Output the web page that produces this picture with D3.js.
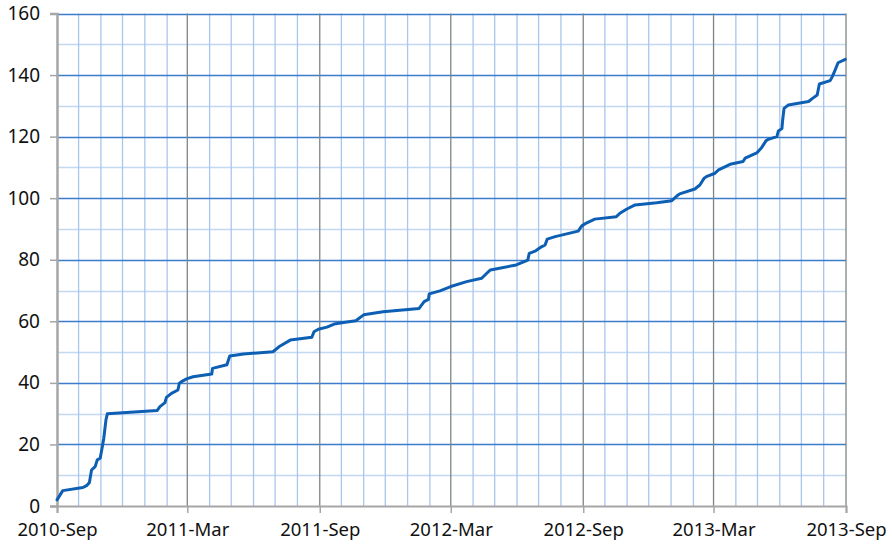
<!DOCTYPE html>
<html>
<head>
<meta charset="utf-8">
<script src="https://cdn.jsdelivr.net/npm/d3@7"></script>
<style>
  html, body { margin: 0; padding: 0; background: #fff; }
  svg { display: block; }
  .tick text { font-family: "Noto Sans", "Open Sans", sans-serif; fill: #111; }
</style>
</head>
<body>
<svg id="chart" width="892" height="551"></svg>
<script>
// ---- data ----
const dates = [
  "2010-09-01","2010-09-09","2010-10-07","2010-10-12","2010-10-16","2010-10-19","2010-10-24","2010-10-27","2010-10-31",
  "2010-11-03","2010-11-05","2010-11-08","2010-11-10","2011-01-18","2011-01-22","2011-01-29","2011-01-31","2011-02-07",
  "2011-02-16","2011-02-18","2011-02-21","2011-02-28","2011-03-09","2011-04-04","2011-04-05","2011-04-25","2011-04-29",
  "2011-05-18","2011-06-28","2011-07-08","2011-07-22","2011-08-21","2011-08-24","2011-08-30","2011-09-11","2011-09-21",
  "2011-10-04","2011-10-21","2011-11-01","2011-11-28","2012-01-17","2012-01-24","2012-01-30","2012-01-31","2012-02-15",
  "2012-03-01","2012-03-23","2012-04-13","2012-04-20","2012-04-25","2012-05-31","2012-06-11","2012-06-16","2012-06-18",
  "2012-06-27","2012-07-05","2012-07-10","2012-07-13","2012-07-24","2012-08-25","2012-08-30","2012-09-06","2012-09-17",
  "2012-10-17","2012-10-22","2012-10-31","2012-11-12","2012-12-12","2013-01-02","2013-01-09","2013-01-13","2013-02-03",
  "2013-02-10","2013-02-16","2013-02-19","2013-03-03","2013-03-08","2013-03-24","2013-04-11","2013-04-14","2013-04-30",
  "2013-05-07","2013-05-13","2013-05-16","2013-05-28","2013-05-30","2013-06-04","2013-06-05","2013-06-07","2013-06-13",
  "2013-07-11","2013-07-17","2013-07-23","2013-07-26","2013-08-10","2013-08-13","2013-08-17","2013-08-21","2013-08-31"
];
const values = [
  2,5,6,6.6,7.6,11.7,12.8,15,15.5,
  19.3,22,28,30,31,32.3,33.6,35.3,36.6,
  37.7,39.9,40.4,41.3,42,42.9,44.7,45.9,48.7,
  49.4,50.1,52,53.9,54.8,56.6,57.4,58.1,59.1,
  59.6,60.2,62.1,63.1,64.2,66.4,67.1,68.9,69.9,
  71.3,72.9,74,75.6,76.7,78.3,79.4,79.9,82.1,
  82.9,84.2,84.8,86.7,87.5,89.3,91,92,93.2,
  94,95.1,96.4,97.8,98.5,99.2,100.7,101.4,103,
  104.3,106.5,107,108.1,109.2,111,111.9,113,114.7,
  116.5,118.7,119.1,120,121.8,122.6,125.4,129.2,130.3,
  131.4,132.5,133.5,137.1,138.2,139.5,141.7,144,145.1
];
const yMajorTicks = [0,20,40,60,80,100,120,140,160];
const yMinorTicks = [10,30,50,70,90,110,130,150];
const xMajorTickLabels = ["2010-Sep","2011-Mar","2011-Sep","2012-Mar","2012-Sep","2013-Mar","2013-Sep"];
const xDomain = ["2010-09-01","2013-09-01"];
const yDomain = [0,160];

// ---- layout ----
const parse = d3.timeParse("%Y-%m-%d");
const margin = {left: 57, right: 46, top: 13.5, bottom: 45};
const W = 892, H = 551;
const svg = d3.select("#chart");

const x = d3.scaleTime()
  .domain(xDomain.map(parse))
  .range([margin.left, W - margin.right]);
const y = d3.scaleLinear()
  .domain(yDomain)
  .range([H - margin.bottom, margin.top]);

const x0 = x.range()[0], x1 = x.range()[1];
const y0 = y.range()[0], y1 = y.range()[1];

const endPlus = d3.timeDay.offset(parse(xDomain[1]), 1);
const majorDates = d3.timeMonth.range(parse(xDomain[0]), endPlus, 6);
const monthDates = d3.timeMonth.range(parse(xDomain[0]), endPlus);
const minorDates = monthDates.filter(d => d.getMonth() % 6 !== 2);

const grid = svg.append("g");
// minor horizontal
grid.selectAll(".hminor").data(yMinorTicks).join("line")
  .attr("x1", x0).attr("x2", x1)
  .attr("y1", d => Math.round(y(d)) + 0.5).attr("y2", d => Math.round(y(d)) + 0.5)
  .attr("stroke", "#c4d8f3").attr("stroke-width", 1.5);
// minor vertical (monthly)
grid.selectAll(".vminor").data(minorDates).join("line")
  .attr("x1", d => x(d)).attr("x2", d => x(d))
  .attr("y1", y1).attr("y2", y0)
  .attr("stroke", "#a9c6ee").attr("stroke-width", 1.3);
// major horizontal
grid.selectAll(".hmajor").data(yMajorTicks.filter(d => d > 0)).join("line")
  .attr("x1", x0).attr("x2", x1)
  .attr("y1", d => Math.round(y(d)) + 0.5).attr("y2", d => Math.round(y(d)) + 0.5)
  .attr("stroke", "#3d7ccb").attr("stroke-width", 1.6);
// major vertical
grid.selectAll(".vmajor").data(majorDates.slice(1)).join("line")
  .attr("x1", d => x(d)).attr("x2", d => x(d))
  .attr("y1", y1).attr("y2", y0)
  .attr("stroke", "#7c8686").attr("stroke-width", 1.3);

// axes
const yAxis = d3.axisLeft(y).tickValues(yMajorTicks).tickSize(7).tickPadding(8).tickFormat(d3.format("d"));
const gy = svg.append("g").attr("transform", `translate(${x0},0)`).call(yAxis);
gy.select(".domain").attr("stroke", "#a6a6a6").attr("stroke-width", 2.5);
gy.selectAll(".tick line").attr("stroke", "#a6a6a6").attr("stroke-width", 1.5);
gy.selectAll(".tick text").attr("font-size", "19px").attr("dx", "-2");

const xAxis = d3.axisBottom(x).tickValues(majorDates).tickSize(7).tickPadding(10)
  .tickFormat((d, i) => xMajorTickLabels[i]);
const gx = svg.append("g").attr("transform", `translate(0,${y0})`).call(xAxis);
gx.select(".domain").attr("stroke", "#a6a6a6").attr("stroke-width", 2);
gx.selectAll(".tick line").attr("stroke", "#a6a6a6").attr("stroke-width", 1.5);
gx.selectAll(".tick text").attr("font-size", "18.5px");

// line
const data = dates.map((d, i) => ({date: parse(d), value: values[i]}));
svg.append("path")
  .datum(data)
  .attr("fill", "none")
  .attr("stroke", "#0d5fb3")
  .attr("stroke-width", 3)
  .attr("stroke-linejoin", "round")
  .attr("stroke-linecap", "round")
  .attr("d", d3.line().x(d => x(d.date)).y(d => y(d.value)));
</script>
</body>
</html>
